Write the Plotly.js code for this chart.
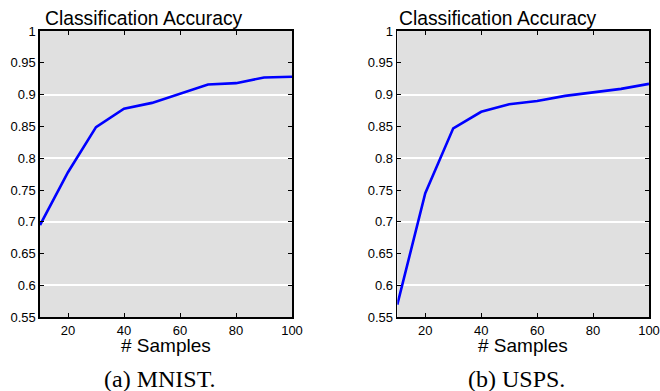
<!DOCTYPE html>
<html><head><meta charset="utf-8">
<script src="https://cdn.plot.ly/plotly-3.0.1.min.js"></script>
<style>html,body{margin:0;padding:0;background:#fff;}#chart{width:660px;height:391px;}</style>
</head><body><div id="chart"></div>
<script>
const samples = [10, 20, 30, 40, 50, 60, 70, 80, 90, 100];
const mnistAcc = [0.695, 0.778, 0.849, 0.878, 0.887, 0.902, 0.916, 0.918, 0.927, 0.928];
const uspsAcc  = [0.570, 0.745, 0.847, 0.873, 0.885, 0.890, 0.898, 0.903, 0.909, 0.917];
const xTicks = [20, 40, 60, 80, 100];
const panelTitle = "Classification Accuracy";
const xTitle = "# Samples";
const captions = ["(a) MNIST.", "(b) USPS."];

const W = 660, H = 391;
const px = v => v / W, py = v => 1 - v / H;
const dom = [[40, 292], [397.3, 649]];
const yDom = [py(317.3), py(31)];
const font = {family: "Liberation Sans", size: 13, color: "#000"};

function xa(d, anchor) {
  return {domain: [px(d[0]), px(d[1])], range: [10, 100], tickvals: xTicks, ticks: "inside",
    ticklen: 4, tickwidth: 1, tickcolor: "#000", mirror: "ticks", showline: true, linecolor: "#000",
    linewidth: 1.6, showgrid: false, zeroline: false, tickfont: font, anchor: anchor, fixedrange: true};
}
// main y axis: white grid every 0.1
function ygrid(anchor) {
  return {domain: yDom, range: [0.55, 1], dtick: 0.1, tick0: 0, anchor: anchor,
    showgrid: true, gridcolor: "#fff", gridwidth: 2, showticklabels: false, ticks: "",
    showline: true, linecolor: "#000", linewidth: 1.6, mirror: true, zeroline: false, fixedrange: true};
}
// overlay y axis: ticks and labels every 0.05
function ylab(over, anchor) {
  return {domain: yDom, range: [0.55, 1], dtick: 0.05, tick0: 0, overlaying: over, anchor: anchor, side: "left",
    ticks: "inside", ticklen: 4, tickwidth: 1, tickcolor: "#000", mirror: "ticks", showline: true,
    linecolor: "#000", linewidth: 1.6, showgrid: false, zeroline: false, tickfont: font, fixedrange: true};
}
const lineStyle = {color: "rgb(0,0,255)", width: 2.6};
const data = [
  {x: samples, y: mnistAcc, xaxis: "x", yaxis: "y3", mode: "lines", opacity: 0, hoverinfo: "skip"},
  {x: samples, y: uspsAcc, xaxis: "x2", yaxis: "y4", mode: "lines", opacity: 0, hoverinfo: "skip"},
  {x: samples, y: mnistAcc, xaxis: "x", yaxis: "y", mode: "lines", line: lineStyle, hoverinfo: "skip"},
  {x: samples, y: uspsAcc, xaxis: "x2", yaxis: "y2", mode: "lines", line: lineStyle, hoverinfo: "skip"}
];
const annotations = [];
const titleX = [43, 397];
const xTitleX = [165.7, 522.7];
const capX = [160, 516.7];
for (let i = 0; i < 2; i++) {
  annotations.push({xref: "paper", yref: "paper", x: px(titleX[i]), y: py(31), xanchor: "left", yanchor: "bottom",
    text: panelTitle, showarrow: false, font: {family: font.family, size: 19.3, color: "#000"}});
  annotations.push({xref: "paper", yref: "paper", x: px(xTitleX[i]), y: py(345), xanchor: "center", yanchor: "middle",
    text: xTitle, showarrow: false, font: {family: font.family, size: 19, color: "#000"}});
  annotations.push({xref: "paper", yref: "paper", x: px(capX[i]), y: py(379), xanchor: "center", yanchor: "middle",
    text: captions[i], showarrow: false, font: {family: "Liberation Serif", size: 24, color: "#000"}});
}
const layout = {
  width: W, height: H, margin: {l: 0, r: 0, t: 0, b: 0}, paper_bgcolor: "#fff", plot_bgcolor: "#e0e0e0",
  showlegend: false,
  xaxis: xa(dom[0], "y"), yaxis: ygrid("x"),
  xaxis2: xa(dom[1], "y2"), yaxis2: ygrid("x2"),
  yaxis3: ylab("y", "x"), yaxis4: ylab("y2", "x2"),
  annotations: annotations
};
Plotly.newPlot("chart", data, layout, {displayModeBar: false, staticPlot: true});
</script></body></html>
